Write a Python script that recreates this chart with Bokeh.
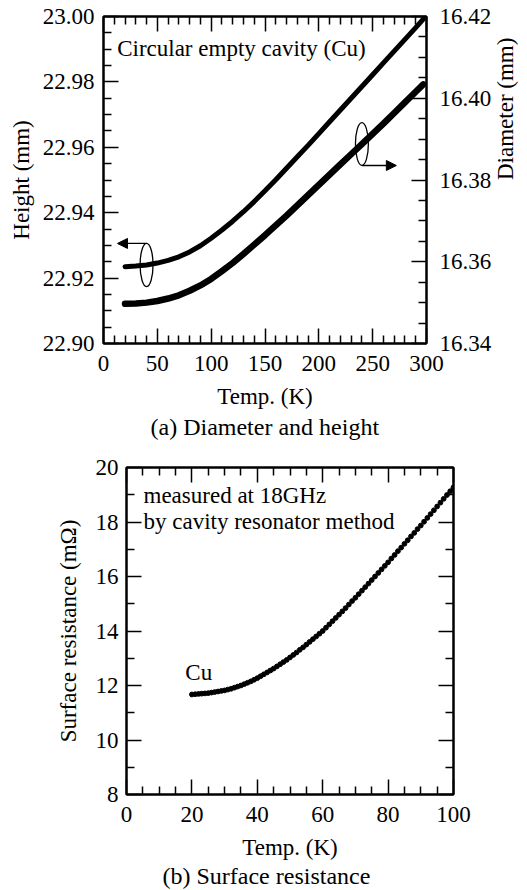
import math
from bokeh.plotting import figure
from bokeh.models import (LinearAxis, Range1d, FixedTicker, PrintfTickFormatter,
                          Label, Arrow, NormalHead, Title, Spacer,
                          CustomLabelingPolicy)
from bokeh.layouts import column, row
from bokeh.embed import file_html
from bokeh.resources import INLINE

# ---------------- data: (a) diameter and height ----------------
TEMP_A = [20, 30, 40, 50, 60, 70, 80, 90, 100, 110, 120, 130, 140, 150, 160,
          170, 180, 190, 200, 210, 220, 230, 240, 250, 260, 270, 280, 290, 297]
HEIGHT_MM = [22.9235, 22.9237, 22.9240, 22.9246, 22.9254, 22.9265, 22.9280,
             22.9299, 22.9322, 22.9347, 22.9374, 22.9403, 22.9434, 22.9467,
             22.9501, 22.9536, 22.9571, 22.9606, 22.9642, 22.9678, 22.9714,
             22.9750, 22.9786, 22.9822, 22.9858, 22.9894, 22.9930, 22.9966,
             22.9992]
DIAMETER_MM = [16.3497, 16.3498, 16.3500, 16.3504, 16.3510, 16.3518, 16.3529,
               16.3542, 16.3558, 16.3577, 16.3597, 16.3619, 16.3642, 16.3665,
               16.3689, 16.3713, 16.3738, 16.3763, 16.3788, 16.3813, 16.3838,
               16.3863, 16.3888, 16.3913, 16.3938, 16.3964, 16.3990, 16.4016,
               16.4034]

# ---------------- data: (b) surface resistance ----------------
TEMP_B = [20, 21, 22, 23, 24, 25, 26, 27, 28, 29, 30, 31, 32, 33, 34, 35, 36,
          37, 38, 39, 40, 41, 42, 43, 44, 45, 46, 47, 48, 49, 50, 51, 52, 53,
          54, 55, 56, 57, 58, 59, 60, 61, 62, 63, 64, 65, 66, 67, 68, 69, 70,
          71, 72, 73, 74, 75, 76, 77, 78, 79, 80, 81, 82, 83, 84, 85, 86, 87,
          88, 89, 90, 91, 92, 93, 94, 95, 96, 97, 98, 99, 100]
RS_MOHM = [11.67, 11.68, 11.69, 11.70, 11.71, 11.72, 11.74, 11.76, 11.78, 11.80,
           11.82, 11.85, 11.88, 11.92, 11.96, 12.00, 12.05, 12.10, 12.15, 12.21,
           12.27, 12.34, 12.41, 12.48, 12.55, 12.62, 12.70, 12.78, 12.86, 12.94,
           13.03, 13.12, 13.21, 13.31, 13.40, 13.50, 13.60, 13.70, 13.80, 13.90,
           14.00, 14.12, 14.24, 14.36, 14.48, 14.60, 14.72, 14.84, 14.97, 15.10,
           15.22, 15.35, 15.48, 15.61, 15.74, 15.87, 16.00, 16.13, 16.26, 16.39,
           16.52, 16.66, 16.79, 16.93, 17.06, 17.20, 17.33, 17.47, 17.60, 17.74,
           17.87, 18.01, 18.15, 18.29, 18.43, 18.57, 18.71, 18.85, 18.99, 19.13,
           19.27]

# ---------------- ticks ----------------
XA_MAJOR = [0, 50, 100, 150, 200, 250, 300]
XA_MINOR = [10, 20, 30, 40, 60, 70, 80, 90, 110, 120, 130, 140, 160, 170, 180,
            190, 210, 220, 230, 240, 260, 270, 280, 290]
H_MAJOR = [22.90, 22.92, 22.94, 22.96, 22.98, 23.00]
H_MINOR = [22.905, 22.910, 22.915, 22.925, 22.930, 22.935, 22.945, 22.950,
           22.955, 22.965, 22.970, 22.975, 22.985, 22.990, 22.995]
D_MAJOR = [16.34, 16.36, 16.38, 16.40, 16.42]
D_MINOR = [16.345, 16.350, 16.355, 16.365, 16.370, 16.375, 16.385, 16.390,
           16.395, 16.405, 16.410, 16.415]
XB_MAJOR = [0, 20, 40, 60, 80, 100]
XB_MINOR = [5, 10, 15, 25, 30, 35, 45, 50, 55, 65, 70, 75, 85, 90, 95]
RS_MAJOR = [8, 10, 12, 14, 16, 18, 20]
RS_MINOR = [9, 11, 13, 15, 17, 19]

FONT = "Liberation Serif"
FS = "23px"
CAP_FS = "24px"

NO_LABELS = "for (let i = 0; i < indices.size; i++) { indices.unset(i) }\nreturn indices"


def style_axis(ax, major, minor, labels=True, fmt=None, standoff=9):
    ax.ticker = FixedTicker(ticks=major, minor_ticks=minor)
    ax.axis_line_color = "black"
    ax.axis_line_width = 2
    ax.major_tick_in = 15
    ax.major_tick_out = 0
    ax.minor_tick_in = 8
    ax.minor_tick_out = 0
    ax.major_tick_line_color = "black"
    ax.minor_tick_line_color = "black"
    ax.major_tick_line_width = 1.5
    ax.minor_tick_line_width = 1.5
    ax.major_label_text_font = FONT
    ax.major_label_text_color = "black"
    ax.axis_label_text_font = FONT
    ax.axis_label_text_font_size = FS
    ax.axis_label_text_font_style = "normal"
    ax.axis_label_text_color = "black"
    if labels:
        ax.major_label_text_font_size = FS
        ax.major_label_standoff = standoff
    else:
        ax.major_label_text_font_size = "0px"
        ax.major_label_standoff = 0
        ax.major_label_policy = CustomLabelingPolicy(code=NO_LABELS)
    if fmt is not None:
        ax.formatter = PrintfTickFormatter(format=fmt)


def txt(x, y, s, size=FS, align="left"):
    return Label(x=x, y=y, text=s, text_font=FONT, text_font_size=size,
                 text_align=align, text_baseline="middle", text_color="black")


def caption(s, offset, standoff):
    return Title(text=s, align="left", offset=offset, standoff=standoff,
                 text_font=FONT, text_font_size=CAP_FS, text_font_style="normal",
                 text_color="black")


# ================= (a) =================
p1 = figure(frame_width=323, frame_height=327, min_border_left=103,
            min_border_right=101, min_border_top=16, min_border_bottom=107,
            x_range=Range1d(0, 300), y_range=Range1d(22.90, 23.00),
            output_backend="svg", toolbar_location=None,
            background_fill_color="white", border_fill_color="white")
p1.extra_y_ranges = {"diam": Range1d(16.34, 16.42)}
p1.grid.visible = False
p1.outline_line_color = "black"
p1.outline_line_width = 2

style_axis(p1.xaxis[0], XA_MAJOR, XA_MINOR, standoff=12)
p1.xaxis[0].axis_label = "Temp. (K)"
p1.xaxis[0].axis_label_standoff = 10
style_axis(p1.yaxis[0], H_MAJOR, H_MINOR, fmt="%.2f", standoff=9)
p1.yaxis[0].axis_label = "Height (mm)"
p1.yaxis[0].axis_label_standoff = 6

ax_top = LinearAxis()
style_axis(ax_top, XA_MAJOR, XA_MINOR, labels=False)
p1.add_layout(ax_top, "above")
ax_right = LinearAxis(y_range_name="diam")
style_axis(ax_right, D_MAJOR, D_MINOR, fmt="%.2f", standoff=13)
ax_right.axis_label = "Diameter (mm)"
ax_right.axis_label_standoff = 11
ax_right.axis_label_orientation = math.pi / 2
p1.add_layout(ax_right, "right")

p1.line(TEMP_A, HEIGHT_MM, line_color="black", line_width=5, line_cap="round")
p1.line(TEMP_A, DIAMETER_MM, line_color="black", line_width=6.5,
        line_cap="round", y_range_name="diam")

# ellipse + arrow markers tied to the curves
i_h = TEMP_A.index(40)
i_d = TEMP_A.index(240)
ELL_W = 12          # K
ELL_H_H = 0.0132    # mm (left scale)
ELL_H_D = 0.0105    # mm (right scale)
p1.ellipse(x=[TEMP_A[i_h]], y=[HEIGHT_MM[i_h]], width=ELL_W, height=ELL_H_H,
           fill_color=None, line_color="black", line_width=1.3)
p1.ellipse(x=[TEMP_A[i_d]], y=[DIAMETER_MM[i_d]], width=ELL_W, height=ELL_H_D,
           fill_color=None, line_color="black", line_width=1.3,
           y_range_name="diam")
y_arr_h = HEIGHT_MM[i_h] + ELL_H_H / 2
p1.add_layout(Arrow(end=NormalHead(size=10, fill_color="black",
                                   line_color="black"),
                    x_start=TEMP_A[i_h], y_start=y_arr_h, x_end=13, y_end=y_arr_h,
                    line_color="black", line_width=1.3))
y_arr_d = DIAMETER_MM[i_d] - ELL_H_D / 2
p1.add_layout(Arrow(end=NormalHead(size=10, fill_color="black",
                                   line_color="black"),
                    x_start=TEMP_A[i_d], y_start=y_arr_d, x_end=272, y_end=y_arr_d,
                    line_color="black", line_width=1.3, y_range_name="diam"))

p1.add_layout(txt(12.7, 22.9901, "Circular empty cavity (Cu)"))
p1.add_layout(caption("(a) Diameter and height", 47, 0), "below")

# ================= (b) =================
p2 = figure(frame_width=327, frame_height=327, min_border_left=103,
            min_border_right=74, min_border_top=17, min_border_bottom=96,
            x_range=Range1d(0, 100), y_range=Range1d(8, 20),
            output_backend="svg", toolbar_location=None,
            background_fill_color="white", border_fill_color="white")
p2.grid.visible = False
p2.outline_line_color = "black"
p2.outline_line_width = 2

style_axis(p2.xaxis[0], XB_MAJOR, XB_MINOR, standoff=12)
p2.xaxis[0].axis_label = "Temp. (K)"
p2.xaxis[0].axis_label_standoff = 10
style_axis(p2.yaxis[0], RS_MAJOR, RS_MINOR, standoff=8)
p2.yaxis[0].axis_label = "Surface resistance (mΩ)"
p2.yaxis[0].axis_label_standoff = 12

bx_top = LinearAxis()
style_axis(bx_top, XB_MAJOR, XB_MINOR, labels=False)
p2.add_layout(bx_top, "above")
by_right = LinearAxis()
style_axis(by_right, RS_MAJOR, RS_MINOR, labels=False)
p2.add_layout(by_right, "right")

p2.scatter(TEMP_B, RS_MOHM, size=4.8, fill_color="black", line_color="black")

p2.add_layout(txt(5.2, 18.97, "measured at 18GHz"))
p2.add_layout(txt(5.2, 18.03, "by cavity resonator method"))
p2.add_layout(txt(18.0, 12.49, "Cu"))
p2.add_layout(caption("(b) Surface resistance", 36, -3), "below")

layout = column(p1, row(Spacer(width=23, height=10), p2), spacing=0)
open("out.html", "w").write(file_html(layout, INLINE))
